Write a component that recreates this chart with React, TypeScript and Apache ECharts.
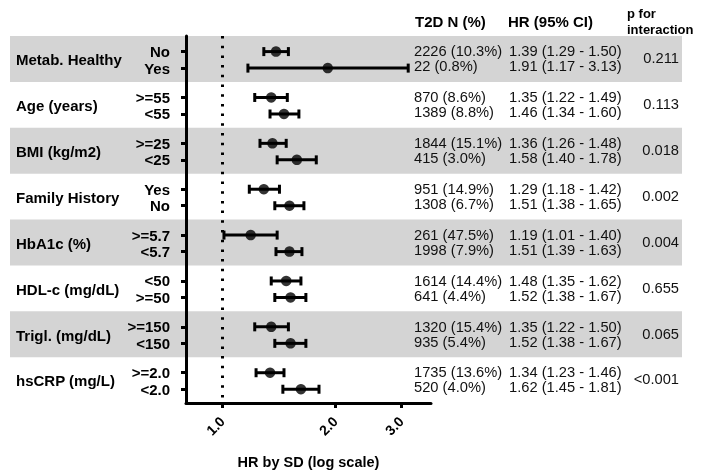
import React, { useEffect, useRef } from 'react';
import * as echarts from 'echarts';

const groups = ['Metab. Healthy', 'Age (years)', 'BMI (kg/m2)', 'Family History', 'HbA1c (%)', 'HDL-c (mg/dL)', 'Trigl. (mg/dL)', 'hsCRP (mg/L)'];
const subgroups = ['No', 'Yes', '>=55', '<55', '>=25', '<25', 'Yes', 'No', '>=5.7', '<5.7', '<50', '>=50', '>=150', '<150', '>=2.0', '<2.0'];
const nText = ['2226 (10.3%)', '22 (0.8%)', '870 (8.6%)', '1389 (8.8%)', '1844 (15.1%)', '415 (3.0%)', '951 (14.9%)', '1308 (6.7%)', '261 (47.5%)', '1998 (7.9%)', '1614 (14.4%)', '641 (4.4%)', '1320 (15.4%)', '935 (5.4%)', '1735 (13.6%)', '520 (4.0%)'];
const hr = [1.39, 1.91, 1.35, 1.46, 1.36, 1.58, 1.29, 1.51, 1.19, 1.51, 1.48, 1.52, 1.35, 1.52, 1.34, 1.62];
const lo = [1.29, 1.17, 1.22, 1.34, 1.26, 1.40, 1.18, 1.38, 1.01, 1.39, 1.35, 1.38, 1.22, 1.38, 1.23, 1.45];
const hi = [1.50, 3.13, 1.49, 1.60, 1.48, 1.78, 1.42, 1.65, 1.40, 1.63, 1.62, 1.67, 1.50, 1.67, 1.46, 1.81];
const pInt = ['0.211', '0.113', '0.018', '0.002', '0.004', '0.655', '0.065', '<0.001'];
const xTicks = [1, 2, 3];

const ROW_OFF = [0.34, 0.70];
const rowPos = hr.map((_, k) => Math.floor(k / 2) + ROW_OFF[k % 2]);

const FONT = 'Liberation Sans, Arial, Helvetica, sans-serif';

function labelFor(v: number) {
  let best = 0;
  let bd = Infinity;
  rowPos.forEach((p, k) => {
    const d = Math.abs(p - v);
    if (d < bd) { bd = d; best = k; }
  });
  return subgroups[best];
}

function fmt(v: number) { return v.toFixed(2); }

export default function App() {
  const ref = useRef<HTMLDivElement>(null);
  useEffect(() => {
    const chart = echarts.init(ref.current!, null, { renderer: 'svg' });
    const txt = (text: string, x: number, y: number, opts: any = {}) => ({
      type: 'text',
      x, y,
      style: {
        text,
        fill: '#111',
        fontFamily: FONT,
        fontSize: 14.7,
        fontWeight: 'normal',
        align: 'left',
        verticalAlign: 'middle',
        ...opts,
      },
    });
    const option: any = {
      animation: false,
      textStyle: { fontFamily: FONT },
      grid: { left: 186, right: 270, top: 36, bottom: 73 },
      xAxis: {
        type: 'log',
        logBase: 10,
        min: 0.8,
        max: 3.6,
        z: 5,
        position: 'bottom',
        axisLine: { show: true, onZero: false, lineStyle: { color: '#000', width: 3 } },
        axisTick: { show: true, customValues: xTicks, length: 5, lineStyle: { color: '#000', width: 3 } },
        minorTick: { show: false },
        axisLabel: {
          customValues: xTicks,
          rotate: 45,
          margin: 16,
          formatter: (v: any) => Number(v).toFixed(1),
          color: '#000',
          fontWeight: 'bold',
          fontSize: 14,
          fontFamily: FONT,
        },
        splitLine: { show: false },
        name: 'HR by SD (log scale)',
        nameLocation: 'middle',
        nameGap: 51,
        nameTextStyle: { color: '#000', fontWeight: 'bold', fontSize: 14.5, fontFamily: FONT },
      },
      yAxis: {
        type: 'value',
        min: 0,
        max: 8,
        inverse: true,
        z: 5,
        position: 'left',
        axisLine: { show: true, onZero: false, lineStyle: { color: '#000', width: 3 } },
        axisTick: { show: true, customValues: rowPos, length: 5, lineStyle: { color: '#000', width: 3 } },
        axisLabel: {
          customValues: rowPos,
          margin: 16,
          formatter: (v: any) => labelFor(Number(v)),
          color: '#000',
          fontWeight: 'bold',
          fontSize: 15,
          fontFamily: FONT,
        },
        splitLine: { show: false },
      },
      graphic: [
        txt('T2D N (%)', 415, 21, { fontWeight: 'bold', fontSize: 15, fill: '#000' }),
        txt('HR (95% CI)', 508, 21, { fontWeight: 'bold', fontSize: 15, fill: '#000' }),
        txt('p for', 627, 13, { fontWeight: 'bold', fontSize: 13, fill: '#000' }),
        txt('interaction', 627, 29, { fontWeight: 'bold', fontSize: 13, fill: '#000' }),
      ],
      series: [
        {
          type: 'custom',
          z: 1,
          clip: false,
          silent: true,
          data: groups.map((_, i) => [1, i]),
          encode: { x: 0, y: 1 },
          renderItem: (params: any, api: any) => {
            const i = api.value(1);
            const top = api.coord([1, i])[1];
            const bot = api.coord([1, i + 1])[1];
            const r0 = api.coord([1, i + ROW_OFF[0]])[1];
            const r1 = api.coord([1, i + ROW_OFF[1]])[1];
            const mid = (r0 + r1) / 2;
            const children: any[] = [];
            if (i % 2 === 0) {
              children.push({ type: 'rect', shape: { x: 10, y: top, width: 672, height: bot - top }, style: { fill: '#d4d4d4' } });
            }
            children.push(txt(groups[i], 16, mid, { fontWeight: 'bold', fontSize: 15, fill: '#000' }));
            const k0 = i * 2, k1 = i * 2 + 1;
            const y0 = mid - 8.5, y1 = mid + 6.5;
            children.push(txt(nText[k0], 414, y0));
            children.push(txt(nText[k1], 414, y1));
            children.push(txt(`${fmt(hr[k0])} (${fmt(lo[k0])} - ${fmt(hi[k0])})`, 509, y0));
            children.push(txt(`${fmt(hr[k1])} (${fmt(lo[k1])} - ${fmt(hi[k1])})`, 509, y1));
            children.push(txt(pInt[i], 679, mid - 1.5, { align: 'right' }));
            return { type: 'group', children };
          },
        },
        {
          type: 'custom',
          z: 3,
          clip: false,
          data: hr.map((_, k) => [lo[k], hi[k], rowPos[k]]),
          encode: { x: [0, 1], y: 2 },
          renderItem: (params: any, api: any) => {
            const y = api.value(2);
            const p0 = api.coord([api.value(0), y]);
            const p1 = api.coord([api.value(1), y]);
            const h = 4.5;
            const style = { stroke: '#000', lineWidth: 3 };
            return {
              type: 'group',
              children: [
                { type: 'line', shape: { x1: p0[0], y1: p0[1], x2: p1[0], y2: p1[1] }, style },
                { type: 'line', shape: { x1: p0[0], y1: p0[1] - h, x2: p0[0], y2: p0[1] + h }, style },
                { type: 'line', shape: { x1: p1[0], y1: p1[1] - h, x2: p1[0], y2: p1[1] + h }, style },
              ],
            };
          },
        },
        {
          type: 'scatter',
          z: 4,
          symbol: 'circle',
          symbolSize: 10.5,
          itemStyle: { color: '#000' },
          data: hr.map((v, k) => [v, rowPos[k]]),
          markLine: {
            silent: true,
            symbol: ['none', 'none'],
            label: { show: false },
            lineStyle: { color: '#000', width: 3, type: [2.5, 7.2] },
            data: [{ xAxis: 1 }],
          },
        },
      ],
    };
    chart.setOption(option);
    return () => chart.dispose();
  }, []);
  return <div ref={ref} style={{ position: 'fixed', left: 0, top: 0, width: 701, height: 476 }} />;
}
